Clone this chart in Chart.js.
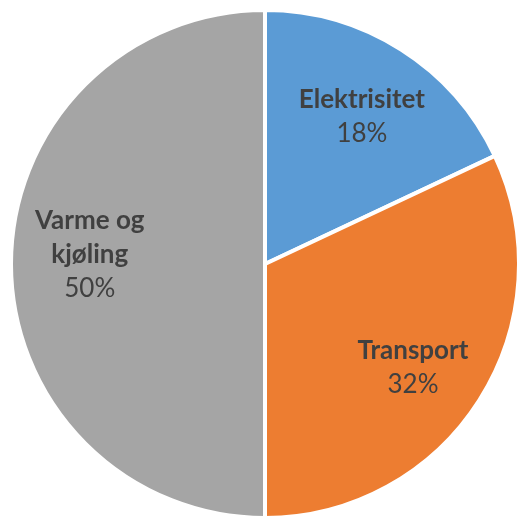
<!DOCTYPE html>
<html>
<head>
<meta charset="utf-8">
<script src="https://cdn.jsdelivr.net/npm/chart.js@4"></script>
<style>
  html, body { margin: 0; padding: 0; background: #ffffff; overflow: hidden; }
  #wrap { position: absolute; left: 0; top: 0; width: 530px; height: 530px; }
</style>
</head>
<body>
<div id="wrap"><canvas id="chart"></canvas></div>
<script>
// data
const categories = [["Elektrisitet"], ["Transport"], ["Varme og", "kjøling"]]
const shares = [18, 32, 50]
const colors = ["#5B9BD5", "#ED7D31", "#A5A5A5"]

const LABEL_FONT = "Lato"
const LABEL_SIZE = 26
const LINE_H = 34
// small per-slice label nudges (px), the way excel places them
const nudgeX = [3, 0, 0]
const nudgeY = [1, 10, -9]

// draws category name + percent inside each slice
const sliceLabels = {
    id: "sliceLabels",
    afterDatasetsDraw(chart) {
        const ctx = chart.ctx
        const meta = chart.getDatasetMeta(0)
        ctx.save()
        ctx.textAlign = "center"
        ctx.textBaseline = "middle"
        ctx.fillStyle = "#404040"
        meta.data.forEach(function(arc, i) {
            const mid = (arc.startAngle + arc.endAngle) / 2
            const r = arc.outerRadius * 0.69
            const x = arc.x + Math.cos(mid) * r + nudgeX[i]
            const y = arc.y + Math.sin(mid) * r + nudgeY[i]
            const lines = categories[i].concat([shares[i] + "%"])
            const top = y - (lines.length - 1) * LINE_H / 2
            lines.forEach(function(txt, j) {
                const isPct = j == lines.length - 1
                ctx.font = (isPct ? "" : "bold ") + LABEL_SIZE + "px " + LABEL_FONT
                ctx.fillText(txt, x, top + j * LINE_H)
            })
        })
        ctx.restore()
    }
}

new Chart(document.getElementById("chart"), {
    type: "pie",
    data: {
        labels: categories.map(c => c.join(" ")),
        datasets: [{
            data: shares,
            backgroundColor: colors,
            borderColor: "#ffffff",
            borderWidth: 4
        }]
    },
    options: {
        responsive: true,
        maintainAspectRatio: false,
        animation: false,
        layout: { padding: { top: 8, bottom: 10, left: 9, right: 9 } },
        plugins: {
            legend: { display: false },
            tooltip: { enabled: false }
        }
    },
    plugins: [sliceLabels]
});
</script>
</body>
</html>
